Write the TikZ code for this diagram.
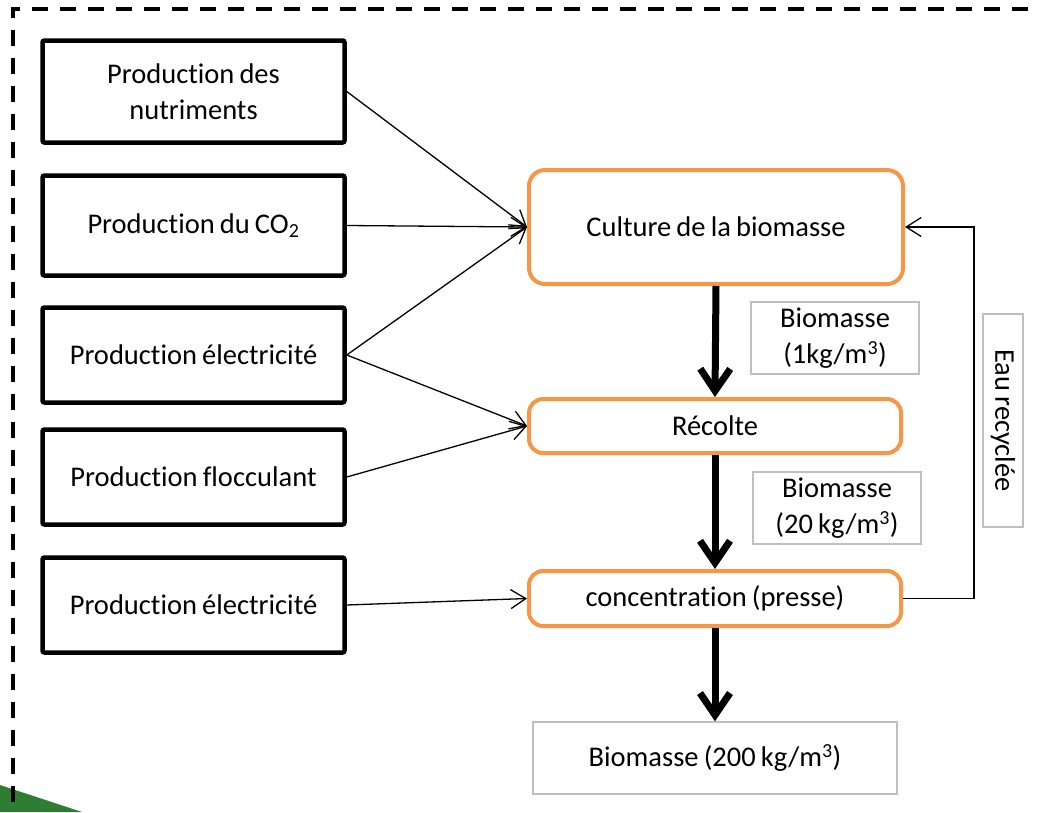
\documentclass[tikz,border=0pt]{standalone}
\usepackage{fontspec}
\setmainfont{Carlito}[Ligatures=NoCommon, WordSpace={0.8}]
\usetikzlibrary{arrows.meta}
\definecolor{orangebox}{RGB}{247,150,70}
\definecolor{graybox}{RGB}{191,191,191}
\definecolor{greenleaf}{RGB}{46,125,50}
\begin{document}
\begin{tikzpicture}[x=1pt, y=-1pt,
    txt/.style={align=center, font=\fontsize{28.5}{36}\selectfont, inner sep=0pt},
    prod/.style={txt, draw, line width=4.5pt, rounded corners=2pt, minimum width=302pt},
    stage/.style={txt, draw=orangebox, line width=4pt, rounded corners=14pt, minimum width=372pt},
    tag/.style={txt, draw=graybox, line width=1.5pt},
    feed/.style={-{Straight Barb[length=15pt,width=19pt]}, line width=1.3pt},
    flow/.style={-{Straight Barb[length=22pt,width=30pt]}, line width=7pt}]
    \useasboundingbox (0,0) rectangle (1037,812);
    \clip (0,0) rectangle (1037,812);
    \fill[greenleaf] (0,785) -- (82,812) -- (0,812) -- cycle;
    \draw[line width=4pt, dash pattern=on 16pt off 12pt] (13,830) -- (13,9) -- (1060,9);

    % inputs
    \node[prod, minimum height=102pt] (nutri) at (193.5,91.5) {Production des\\nutriments};
    \node[prod, minimum height=100pt] (co2) at (193.5,225.5) {Production du CO\textsubscript{2}};
    \node[prod, minimum height=95pt] (elec1) at (193.5,355) {Production électricité};
    \node[prod, minimum height=95pt] (floc) at (193.5,477) {Production flocculant};
    \node[prod, minimum height=95pt] (elec2) at (193.5,605) {Production électricité};

    % process
    \node[stage, minimum width=374pt, minimum height=114pt, rounded corners=16pt] (culture) at (716,227) {Culture de la biomasse};
    \node[stage, minimum height=54pt] (recolte) at (715,426) {Récolte};
    \node[stage, minimum height=55pt] (conc) at (715,598.5) {concentration (presse)};
    \node[tag, minimum width=168pt, minimum height=72pt] (bio1) at (835,338) {Biomasse\\(1kg/m\textsuperscript{3})};
    \node[tag, minimum width=168pt, minimum height=72pt] (bio20) at (837,508) {Biomasse\\(20 kg/m\textsuperscript{3})};
    \node[tag, minimum width=364pt, minimum height=72pt] (bio200) at (715,758) {Biomasse (200 kg/m\textsuperscript{3})};
    \node[tag, rotate=-90, minimum width=213pt, minimum height=40pt] (eau) at (1003,420.5) {Eau recyclée};

    \draw[feed] (nutri.east) -- (culture.west);
    \draw[feed] (co2.east) -- (culture.west);
    \draw[feed] (elec1.east) -- (culture.west);
    \draw[feed] (elec1.east) -- (recolte.west);
    \draw[feed] (floc.east) -- (recolte.west);
    \draw[feed] (elec2.east) -- (conc.west);
    \draw[feed] (conc.east) -- ++(71,0) |- (culture.east);

    \draw[flow] (culture.south) -- (recolte.north);
    \draw[flow] (recolte.south) -- (conc.north);
    \draw[flow] (conc.south) -- (bio200.north);
\end{tikzpicture}
\end{document}
